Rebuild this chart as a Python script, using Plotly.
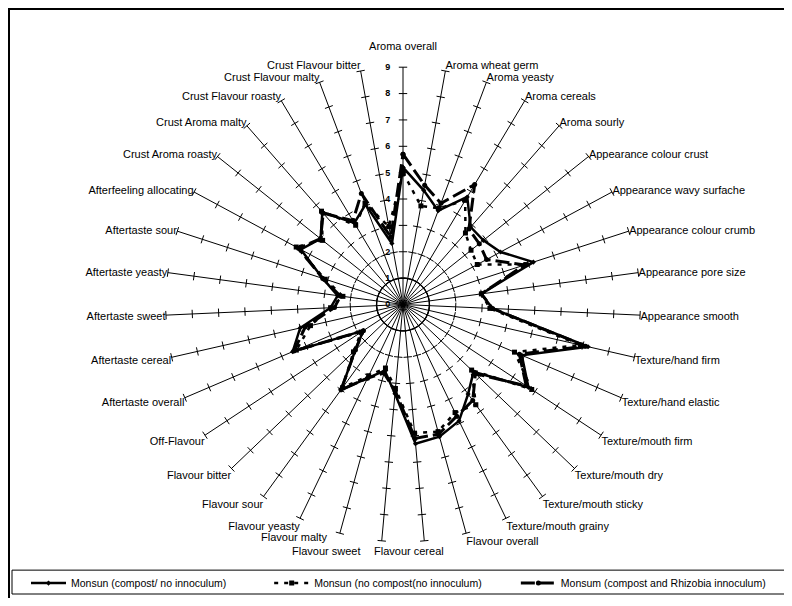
import math
import plotly.graph_objects as go

categories = [
    'Aroma overall', 'Aroma wheat germ', 'Aroma yeasty', 'Aroma cereals', 'Aroma sourly',
    'Appearance colour crust', 'Appearance wavy surfache', 'Appearance colour crumb',
    'Appearance pore size', 'Appearance smooth', 'Texture/hand firm', 'Texture/hand elastic',
    'Texture/mouth firm', 'Texture/mouth dry', 'Texture/mouth sticky', 'Texture/mouth grainy',
    'Flavour overall', 'Flavour cereal', 'Flavour sweet', 'Flavour malty', 'Flavour yeasty',
    'Flavour sour', 'Flavour bitter', 'Off-Flavour', 'Aftertaste overall', 'Aftertaste cereal',
    'Aftertaste sweet', 'Aftertaste yeasty', 'Aftertaste sour', 'Afterfeeling allocating',
    'Crust Aroma roasty', 'Crust Aroma malty', 'Crust Flavour roasty', 'Crust Flavour malty',
    'Crust Flavour bitter',
]

compost_no_inoc = [5.2, 4.4, 3.8, 4.75, 3.9, 3.9, 4.2, 5.2, 3.0, 3.4, 7.2, 4.9, 5.7, 3.7, 4.2,
                   4.9, 5.2, 5.3, 3.4, 2.6, 3.1, 4.0, 2.5, 1.8, 4.55, 4.0, 2.75, 2.5, 3.2, 4.4,
                   4.0, 4.65, 3.6, 4.05, 2.35]
no_compost_no_inoc = [5.0, 3.8, 3.9, 4.6, 3.6, 3.3, 3.2, 4.9, 3.0, 3.3, 6.9, 4.6, 5.85, 3.6, 4.7,
                      4.55, 5.0, 4.9, 3.2, 2.5, 3.0, 3.9, 2.6, 1.9, 4.4, 3.6, 2.75, 2.3, 3.1, 4.6,
                      3.9, 4.7, 3.5, 4.1, 3.0]
compost_rhizobia = [5.7, 4.6, 4.1, 5.3, 3.8, 3.7, 3.6, 4.85, 3.0, 3.4, 7.1, 4.8, 5.6, 3.8, 4.5,
                    4.7, 5.1, 5.1, 3.3, 2.7, 3.1, 4.0, 2.5, 1.8, 4.5, 3.8, 2.6, 2.4, 3.2, 4.5,
                    4.0, 4.6, 3.7, 4.5, 2.6]

series_names = ['Monsun (compost/ no innoculum)', 'Monsun (no compost(no innoculum)',
                'Monsum (compost and Rhizobia innoculum)']

radial_ticks = list(range(0, 10))

# the page body adds an 8px margin, so the figure sits 8px in from the window edge
W, H = 784, 590
cx, cy, rad = 395, 298, 238.5
font = 'Liberation Sans, Arial, sans-serif'
n = len(categories)
nb = '\u00a0'

def closed(vals):
    return list(vals) + [vals[0]]

def spoke_end(name):
    a = math.radians(categories.index(name) * 360 / n)
    return cx + rad * math.sin(a), cy - rad * math.cos(a)

# crowded bottom labels get placed by hand (as annotations), the rest by the axis
manual = {'Flavour malty': (-10, 4, 'right'), 'Flavour sweet': (-20, 10, 'right'),
          'Flavour cereal': (-52, 10, 'left')}
tick_text = []
for c in categories:
    if c in manual:
        tick_text.append('')
    elif c == 'Aroma overall':
        tick_text.append(c + '<br>' + nb)
    else:
        tick_text.append(c)

annotations = []
for c, (dx, dy, anchor) in manual.items():
    ex, ey = spoke_end(c)
    annotations.append(dict(text=c, x=(ex + dx) / W, y=1 - (ey + dy) / H, xref='paper', yref='paper',
                            xanchor=anchor, yanchor='middle', showarrow=False,
                            font=dict(size=11, family=font)))

fig = go.Figure()

# inner circle at r=1
fig.add_trace(go.Scatterpolar(
    r=[1] * (n + 1), theta=closed(categories), mode='lines',
    line=dict(color='black', width=1.2), showlegend=False, hoverinfo='skip'))

# tick marks on every spoke
tick_r, tick_t, tick_a = [], [], []
for i, c in enumerate(categories):
    for v in radial_ticks[1:]:
        tick_r.append(v)
        tick_t.append(c)
        tick_a.append(i * 360 / n)
fig.add_trace(go.Scatterpolar(
    r=tick_r, theta=tick_t, mode='markers',
    marker=dict(symbol='line-ew', size=6, angle=tick_a, line=dict(color='black', width=1)),
    showlegend=False, hoverinfo='skip'))

# legend entries padded so the three items sit at even spacing
fig.add_trace(go.Scatterpolar(
    r=closed(compost_no_inoc), theta=closed(categories), mode='lines+markers',
    name=series_names[0] + nb * 13,
    line=dict(color='black', width=2.5), marker=dict(symbol='diamond', size=4, color='black')))
fig.add_trace(go.Scatterpolar(
    r=closed(no_compost_no_inoc), theta=closed(categories), mode='lines+markers',
    name=series_names[1] + nb * 10,
    line=dict(color='black', width=2.5, dash='4px,6px'), marker=dict(symbol='square', size=5, color='black')))
fig.add_trace(go.Scatterpolar(
    r=closed(compost_rhizobia), theta=closed(categories), mode='lines+markers',
    name=series_names[2],
    line=dict(color='black', width=3, dash='14px,5px'), marker=dict(symbol='circle', size=5, color='black')))

fig.update_layout(
    width=W, height=H,
    paper_bgcolor='white',
    margin=dict(l=0, r=0, t=0, b=0),
    font=dict(family=font, size=11, color='black'),
    polar=dict(
        domain=dict(x=[(cx - rad) / W, (cx + rad) / W],
                    y=[(H - cy - rad) / H, (H - cy + rad) / H]),
        bgcolor='white',
        angularaxis=dict(
            rotation=90, direction='clockwise', showline=False,
            showgrid=True, gridcolor='black', gridwidth=1, ticks='',
            tickmode='array', tickvals=categories, ticktext=tick_text,
            tickfont=dict(size=11, family=font),
        ),
        radialaxis=dict(
            range=[0, 9], tickvals=radial_ticks, angle=90, side='counterclockwise',
            tickangle=90, showgrid=False, showline=False,
            ticks='outside', ticklen=9, tickcolor='rgba(0,0,0,0)',
            tickfont=dict(size=9, family=font, weight='bold'),
        ),
    ),
    annotations=annotations,
    legend=dict(
        orientation='h', x=18 / W, xanchor='left', y=1 - 578 / H, yanchor='middle',
        font=dict(size=10.5, family=font), entrywidth=0, bgcolor='rgba(0,0,0,0)',
        itemwidth=35,
    ),
    shapes=[
        dict(type='rect', xref='paper', yref='paper', x0=1 / W, x1=1.05, y0=-0.01, y1=1 - 1 / H,
             line=dict(color='black', width=2)),
        dict(type='rect', xref='paper', yref='paper', x0=4 / W, x1=1.05, y0=1 - 589 / H,
             y1=1 - 565 / H, line=dict(color='black', width=1)),
    ],
)

fig.write_html('out.html')
